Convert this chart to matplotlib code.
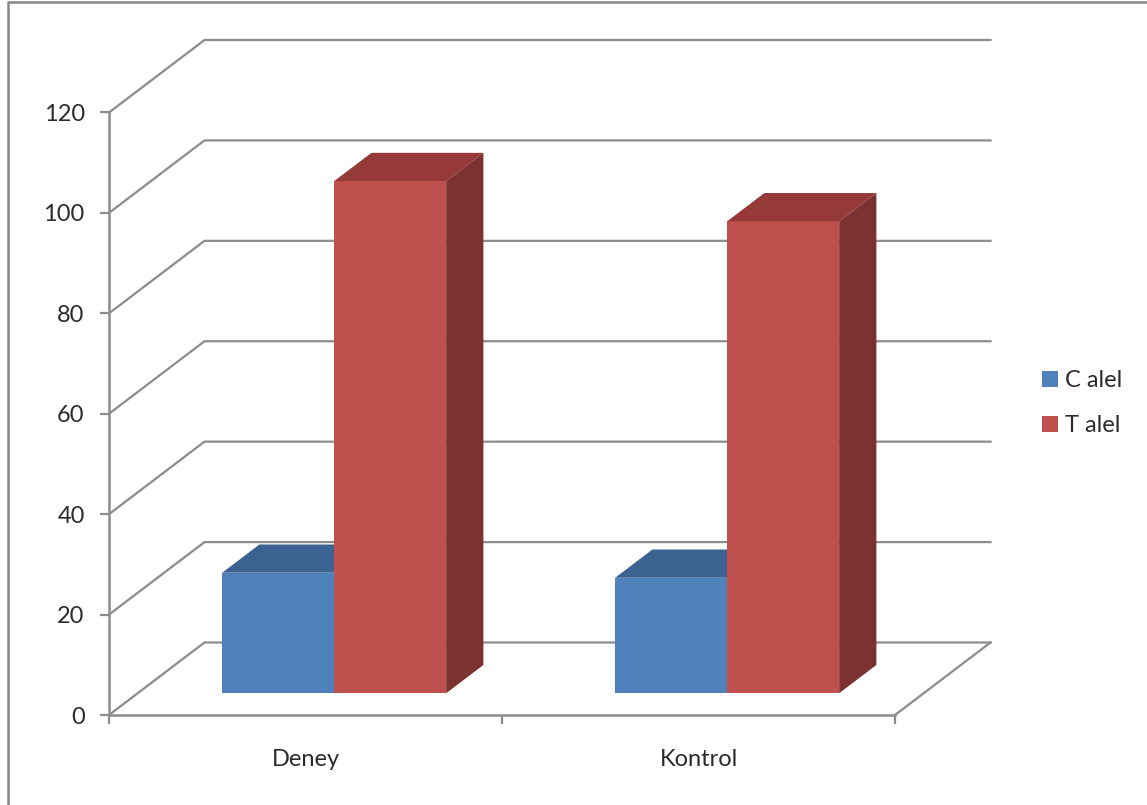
"""
Grafico de barras agrupadas con aspecto 3D oblicuo: recuento de alelos C y T
en los grupos Deney y Kontrol.
"""

import matplotlib.pyplot as plt
from matplotlib.lines import Line2D
from matplotlib.patches import Patch, Polygon

plt.rcParams['font.family'] = ['Lato', 'DejaVu Sans']

categories = ['Deney', 'Kontrol']
series_names = ['C alel', 'T alel']
c_alel = [24, 23]
t_alel = [102, 94]
y_ticks = [0, 20, 40, 60, 80, 100, 120]

# Proyeccion oblicua: desplazamiento del fondo en unidades de datos
DEPTH_X = 0.2430
DEPTH_Y = 14.44
BAR_FRONT = 0.300
BAR_DEPTH = 0.390
BAR_WIDTH = 0.285

GRID_COLOR = '#8c8c8c'
TEXT_COLOR = '#2b2b2b'
LABEL_SIZE = 17
FACE_COLORS = {'C alel': ('#4f81bd', '#3c6291', '#335479'),
               'T alel': ('#c0504d', '#953a39', '#7b3230')}


def draw_bar(ax, x, value, name):
    front, top, side = FACE_COLORS[name]
    x0 = x + BAR_FRONT * DEPTH_X
    y0 = BAR_FRONT * DEPTH_Y
    dx = BAR_DEPTH * DEPTH_X
    dy = BAR_DEPTH * DEPTH_Y
    x1 = x0 + BAR_WIDTH
    y1 = y0 + value

    ax.bar(x0, value, BAR_WIDTH, bottom=y0, align='edge', color=front,
           linewidth=0, clip_on=False, zorder=3)
    ax.add_patch(Polygon([(x0, y1), (x1, y1), (x1 + dx, y1 + dy), (x0 + dx, y1 + dy)],
                         facecolor=top, linewidth=0, clip_on=False, zorder=3))
    ax.add_patch(Polygon([(x1, y0), (x1 + dx, y0 + dy), (x1 + dx, y1 + dy), (x1, y1)],
                         facecolor=side, linewidth=0, clip_on=False, zorder=3))


fig = plt.figure(figsize=(11.47, 8.05), dpi=100)
ax = fig.add_axes([109 / 1147, 90 / 805, 786 / 1147, 602.5 / 805])
ax.set_xlim(0, 2)
ax.set_ylim(0, 120)
ax.patch.set_alpha(0)

# Paredes y suelo
for tick in y_ticks:
    ax.plot([0, DEPTH_X, 2 + DEPTH_X], [tick, tick + DEPTH_Y, tick + DEPTH_Y],
            color=GRID_COLOR, linewidth=1.6, clip_on=False, zorder=1,
            solid_joinstyle='miter')
ax.plot([2, 2 + DEPTH_X], [0, DEPTH_Y], color=GRID_COLOR, linewidth=1.6,
        clip_on=False, zorder=1)

# Barras de cada grupo
for i in range(len(categories)):
    center = i + 0.5
    draw_bar(ax, center - BAR_WIDTH, c_alel[i], series_names[0])
    draw_bar(ax, center, t_alel[i], series_names[1])

# Ejes
for spine in ['top', 'right']:
    ax.spines[spine].set_visible(False)
for spine in ['left', 'bottom']:
    ax.spines[spine].set_color(GRID_COLOR)
    ax.spines[spine].set_linewidth(1.8)

ax.set_yticks(y_ticks)
ax.set_xticks([0, 1, 2])
ax.set_xticklabels([])
ax.set_xticks([0.5, 1.5], minor=True)
ax.set_xticklabels(categories, minor=True)
ax.tick_params(axis='x', which='major', length=6.5, width=1.6, color=GRID_COLOR)
ax.tick_params(axis='x', which='minor', length=0, pad=24.5, labelsize=LABEL_SIZE,
               labelcolor=TEXT_COLOR)
ax.tick_params(axis='y', length=6.5, width=1.6, color=GRID_COLOR, pad=11,
               labelsize=LABEL_SIZE, labelcolor=TEXT_COLOR)

# Leyenda
handles = [Patch(facecolor=FACE_COLORS[name][0], linewidth=0) for name in series_names]
fig.legend(handles, series_names, loc='upper left',
           bbox_to_anchor=(1042 / 1147, 1 - 370 / 805), frameon=False,
           fontsize=LABEL_SIZE, labelcolor=TEXT_COLOR, borderpad=0, borderaxespad=0,
           handlelength=0.66, handleheight=0.66, handletextpad=0.3,
           labelspacing=1.03)

# Marco exterior, abierto por la derecha y por abajo
fig.add_artist(Line2D([8 / 1147, 8 / 1147, 1], [0, 1 - 2.5 / 805, 1 - 2.5 / 805],
                      color='#868686', linewidth=1.8))

fig.savefig('out.png', dpi=100)
plt.close(fig)
